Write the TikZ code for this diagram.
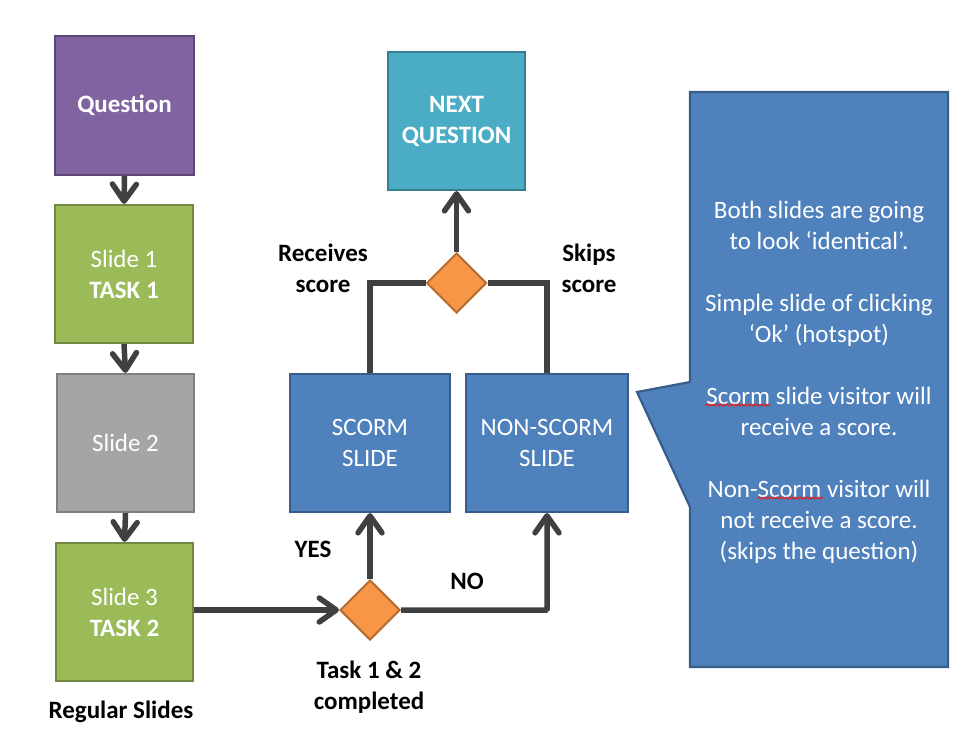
\documentclass[tikz,border=0pt]{standalone}
\usepackage{fontspec}
\setmainfont{Carlito}
\usetikzlibrary{arrows.meta,shapes.geometric,decorations.pathmorphing}
\definecolor{qfill}{HTML}{8064A2}
\definecolor{qline}{HTML}{5C4776}
\definecolor{gfill}{HTML}{9BBB59}
\definecolor{gline}{HTML}{71893F}
\definecolor{grfill}{HTML}{A5A5A5}
\definecolor{grline}{HTML}{7F7F7F}
\definecolor{bfill}{HTML}{4F81BD}
\definecolor{bline}{HTML}{385D8A}
\definecolor{cfill}{HTML}{4BACC6}
\definecolor{cline}{HTML}{357D91}
\definecolor{ofill}{HTML}{F79646}
\definecolor{oline}{HTML}{B66D31}
\definecolor{conn}{HTML}{404040}
\definecolor{spell}{HTML}{E02020}
\tikzset{
  boxnode/.style={rectangle, draw, line width=2.2pt, text=white, align=center,
    font=\fontsize{25}{31}\selectfont, inner sep=0pt},
  decide/.style={diamond, draw=oline, fill=ofill, line width=2pt, inner sep=0pt,
    minimum width=60pt, minimum height=60pt, aspect=1},
  lbl/.style={font=\fontsize{25}{31}\selectfont\bfseries, align=center, text=black},
  flow/.style={draw=conn, line width=5.5pt},
  flowarrow/.style={flow, -{Straight Barb[length=17pt,width=24pt,line width=5.5pt,round]}},
  spellmark/.style={draw=spell, line width=0.9pt, decorate,
    decoration={snake, amplitude=1pt, segment length=3pt}},
}
\begin{document}
\begin{tikzpicture}[x=1pt,y=-1pt]
\useasboundingbox (0,0) rectangle (958,738);

% left column
\node[boxnode, draw=qline, fill=qfill, minimum width=139pt, minimum height=139pt] (q) at (124.5,105.5) {\bfseries Question};
\node[boxnode, draw=gline, fill=gfill, minimum width=138pt, minimum height=138pt] (s1) at (124,274) {Slide 1\\\bfseries TASK 1};
\node[boxnode, draw=grline, fill=grfill, minimum width=137pt, minimum height=138pt] (s2) at (125.5,443) {Slide 2};
\node[boxnode, draw=gline, fill=gfill, minimum width=137pt, minimum height=138pt] (s3) at (124.5,612) {Slide 3\\\bfseries TASK 2};
\node[lbl] (reg) at (121,712) {Regular Slides};

% middle
\node[boxnode, draw=cline, fill=cfill, minimum width=137pt, minimum height=138pt] (nq) at (456.5,121) {\bfseries NEXT\\\bfseries QUESTION};
\node[boxnode, draw=bline, fill=bfill, minimum width=160pt, minimum height=138pt] (sc) at (370,443) {SCORM\\SLIDE};
\node[boxnode, draw=bline, fill=bfill, minimum width=162pt, minimum height=138pt] (ns) at (547,443) {NON-SCORM\\SLIDE};
\node[decide] (d1) at (370,610) {};
\node[decide] (d2) at (456.5,283) {};

\node[lbl] (yes) at (313,549) {YES};
\node[lbl] (no) at (467,581) {NO};
\node[lbl] (task) at (369,687) {Task 1 \& 2\\completed};
\node[lbl] (rec) at (323,268) {Receives\\score};
\node[lbl] (skp) at (589,268) {Skips\\score};

% connectors
\draw[flowarrow] (q.south) -- (s1.north);
\draw[flowarrow] (s1.south) -- (s2.north);
\draw[flowarrow] (s2.south) -- (s3.north);
\draw[flowarrow] (s3.east |- d1.west) -- (d1.west);
\draw[flowarrow] (d1.north) -- (sc.south);
\draw[flowarrow, rounded corners=1pt] (d1.east) -| (ns.south);
\draw[flow] (sc.north) |- (d2.west);
\draw[flow] (ns.north) |- (d2.east);
\draw[flowarrow] (d2.north) -- (nq.south);

% callout
\coordinate (c1) at (690,92);
\coordinate (c2) at (948,92);
\coordinate (c3) at (948,667);
\coordinate (c4) at (690,667);
\coordinate (c5) at (690,507);
\coordinate (c6) at (637,392);
\coordinate (c7) at (690,382);
\draw[draw=bline, fill=bfill, line width=2.2pt, line join=miter]
  (c1) -- (c2) -- (c3) -- (c4) -- (c5) -- (c6) -- (c7) -- cycle;
\node[font=\fontsize{25}{31}\selectfont, text=white, align=center] (ct) at (819,382)
 {Both slides are going\\to look ‘identical’.\\[31pt]
  Simple slide of clicking\\‘Ok’ (hotspot)\\[31pt]
  Scorm slide visitor will\\receive a score.\\[31pt]
  Non-Scorm visitor will\\not receive a score.\\(skips the question)};
% spell-check marks
\coordinate (u1a) at (705,405);
\coordinate (u1b) at (770,405);
\coordinate (u2a) at (758,498);
\coordinate (u2b) at (823,498);
\draw[spellmark] (u1a) -- (u1b);
\draw[spellmark] (u2a) -- (u2b);
\end{tikzpicture}
\end{document}
